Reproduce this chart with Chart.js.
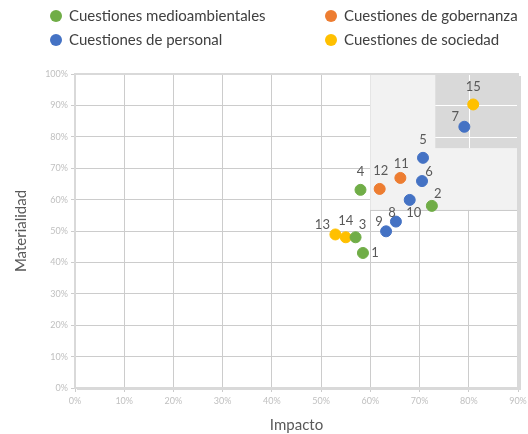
<!DOCTYPE html>
<html>
<head>
<meta charset="utf-8">
<script src="https://cdn.jsdelivr.net/npm/chart.js@4/dist/chart.umd.min.js"></script>
<style>
  html, body { margin: 0; padding: 0; background: #fff; }
  #wrap { position: relative; width: 528px; height: 434px; }
  #legend { position: absolute; left: 0; top: 0; width: 528px; height: 60px; font-family: Lato, "Open Sans", sans-serif; font-size: 15px; color: #404040; }
  .item { position: absolute; white-space: nowrap; }
  .dot { display: inline-block; width: 12px; height: 12px; border-radius: 50%; vertical-align: -1px; margin-right: 7px; }
</style>
</head>
<body>
<div id="wrap">
  <canvas id="chart" width="528" height="434"></canvas>
  <div id="legend"></div>
</div>
<script>
// Datos: impacto (x) y materialidad (y) por grupo
const groupNames = ['Cuestiones medioambientales', 'Cuestiones de gobernanza', 'Cuestiones de personal', 'Cuestiones de sociedad'];
const groupColors = ['#70ad47', '#ed7d31', '#4472c4', '#ffc000'];

const ambientalIds = [1, 2, 3, 4];
const ambientalX = [0.585, 0.725, 0.570, 0.580];
const ambientalY = [0.430, 0.580, 0.480, 0.631];

const gobernanzaIds = [11, 12];
const gobernanzaX = [0.661, 0.619];
const gobernanzaY = [0.669, 0.634];

const personalIds = [5, 6, 7, 8, 9, 10];
const personalX = [0.707, 0.705, 0.791, 0.652, 0.632, 0.680];
const personalY = [0.733, 0.659, 0.832, 0.530, 0.499, 0.599];

const sociedadIds = [13, 14, 15];
const sociedadX = [0.529, 0.550, 0.809];
const sociedadY = [0.489, 0.480, 0.903];

const xTicks = [0, 0.1, 0.2, 0.3, 0.4, 0.5, 0.6, 0.7, 0.8, 0.9];
const yTicks = [0, 0.1, 0.2, 0.3, 0.4, 0.5, 0.6, 0.7, 0.8, 0.9, 1];

// Zonas sombreadas (en unidades de los ejes)
const zonaMedia = { x0: 0.6, x1: 0.9, y0: 0.567, y1: 1 };
const zonaAlta = { x0: 0.732, x1: 0.9, y0: 0.764, y1: 1 };

// Desplazamiento de etiquetas por id (px)
const labelOffsets = {
  1: [12, 0], 2: [6, -12], 3: [7, -12], 4: [0, -18], 5: [0, -18], 6: [7, -9], 7: [-9, -10],
  8: [-4, -9], 9: [-7, -10], 10: [4, 13], 11: [1, -14], 12: [1, -18], 13: [-13, -10], 14: [0, -16], 15: [0, -18]
};

const toPoints = (xs, ys, ids) => xs.map((x, i) => ({ x, y: ys[i], id: ids[i] }));

const groups = [
  toPoints(ambientalX, ambientalY, ambientalIds),
  toPoints(gobernanzaX, gobernanzaY, gobernanzaIds),
  toPoints(personalX, personalY, personalIds),
  toPoints(sociedadX, sociedadY, sociedadIds)
];

// Leyenda en HTML (dos columnas)
const legendPos = [[50, 6], [325, 6], [50, 30], [325, 30]];
document.getElementById('legend').innerHTML = groupNames.map((name, i) => `
  <div class="item" style="left:${legendPos[i][0]}px;top:${legendPos[i][1]}px">
    <span class="dot" style="background:${groupColors[i]}"></span>${name}
  </div>`).join('');

const zonesPlugin = {
  id: 'zones',
  beforeDatasetsDraw(chart) {
    const { ctx, scales: { x, y } } = chart;
    ctx.save();
    const rect = (z) => [x.getPixelForValue(z.x0), y.getPixelForValue(z.y1), x.getPixelForValue(z.x1) - x.getPixelForValue(z.x0), y.getPixelForValue(z.y0) - y.getPixelForValue(z.y1)];
    let r = rect(zonaMedia);
    ctx.fillStyle = '#f2f2f2';
    ctx.fillRect(...r);
    ctx.strokeStyle = '#c9c9c9';
    ctx.lineWidth = 1;
    ctx.beginPath();
    ctx.moveTo(r[0], r[1] + r[3] + 0.5);
    ctx.lineTo(r[0] + r[2], r[1] + r[3] + 0.5);
    ctx.stroke();
    r = rect(zonaAlta);
    ctx.fillStyle = '#d9d9d9';
    ctx.fillRect(...r);
    // líneas blancas dentro de la zona alta
    ctx.strokeStyle = '#ffffff';
    ctx.beginPath();
    xTicks.forEach(v => {
      if (v > zonaAlta.x0 && v < zonaAlta.x1) {
        const px = Math.round(x.getPixelForValue(v)) + 0.5;
        ctx.moveTo(px, r[1]); ctx.lineTo(px, r[1] + r[3]);
      }
    });
    yTicks.forEach(v => {
      if (v > zonaAlta.y0 && v < zonaAlta.y1) {
        const py = Math.round(y.getPixelForValue(v)) + 0.5;
        ctx.moveTo(r[0], py); ctx.lineTo(r[0] + r[2], py);
      }
    });
    ctx.stroke();
    ctx.restore();
  },
  afterDatasetsDraw(chart) {
    const { ctx } = chart;
    ctx.save();
    ctx.font = '13px Lato, "Open Sans", sans-serif';
    ctx.fillStyle = '#595959';
    ctx.textAlign = 'center';
    ctx.textBaseline = 'middle';
    chart.data.datasets.forEach((ds, di) => {
      chart.getDatasetMeta(di).data.forEach((el, i) => {
        const id = ds.data[i].id;
        const [dx, dy] = labelOffsets[id] || [0, -14];
        ctx.fillText(String(id), el.x + dx, el.y + dy);
      });
    });
    // borde del área
    const a = chart.chartArea;
    ctx.strokeStyle = '#d9d9d9';
    ctx.lineWidth = 2;
    ctx.strokeRect(a.left, a.top, a.right - a.left, a.bottom - a.top);
    ctx.fillStyle = '#d9d9d9';
    ctx.fillRect(a.right, a.top + 2, 3, a.bottom - a.top);
    ctx.fillRect(a.left + 2, a.bottom, a.right - a.left, 2);
    ctx.restore();
  }
};

const pct = v => Math.round(v * 100) + '%';

new Chart(document.getElementById('chart'), {
  type: 'scatter',
  data: {
    datasets: groups.map((pts, i) => ({
      label: groupNames[i],
      data: pts,
      backgroundColor: groupColors[i],
      borderColor: groupColors[i],
      pointRadius: 5.5,
      pointHoverRadius: 5.5
    }))
  },
  options: {
    responsive: false,
    animation: false,
    layout: { padding: { top: 74, right: 0, left: 0, bottom: 0 } },
    plugins: { legend: { display: false }, tooltip: { enabled: false } },
    scales: {
      x: {
        type: 'linear', min: 0, max: 0.9,
        afterBuildTicks: s => { s.ticks = xTicks.map(v => ({ value: v })); },
        afterFit: s => { s.height = 46; s.paddingRight = 10; },
        grid: { color: '#cccccc', lineWidth: 1, tickLength: 4, drawTicks: true },
        border: { color: '#bfbfbf' },
        ticks: { callback: pct, color: '#c0c0c0', font: { family: 'Lato, sans-serif', size: 9 }, padding: 4, maxRotation: 0 },
        title: { display: true, text: 'Impacto', color: '#595959', font: { family: 'Lato, "Open Sans", sans-serif', size: 15 }, padding: { top: 0, bottom: 0 } }
      },
      y: {
        type: 'linear', min: 0, max: 1,
        afterBuildTicks: s => { s.ticks = yTicks.map(v => ({ value: v })); },
        afterFit: s => { s.width = 75; },
        grid: { color: '#cccccc', lineWidth: 1, tickLength: 4, drawTicks: true },
        border: { color: '#bfbfbf' },
        ticks: { callback: pct, color: '#c0c0c0', font: { family: 'Lato, sans-serif', size: 9 }, padding: 3 },
        title: { display: true, text: 'Materialidad', color: '#595959', font: { family: 'Lato, "Open Sans", sans-serif', size: 15 }, padding: { top: 12, bottom: 0 } }
      }
    }
  },
  plugins: [zonesPlugin]
});
</script>
</body>
</html>
